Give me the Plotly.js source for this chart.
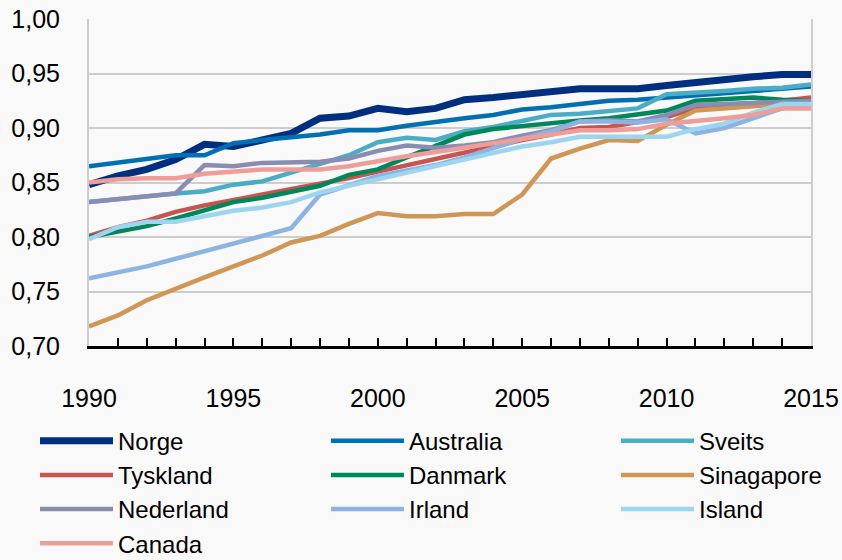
<!DOCTYPE html>
<html>
<head>
<meta charset="utf-8">
<script src="https://cdn.plot.ly/plotly-3.0.1.min.js"></script>
<style>
html,body{margin:0;padding:0;background:#f9f9f9;}
#chart{width:842px;height:560px;}
</style>
</head>
<body>
<div id="chart"></div>
<script>
var years = [1990,1991,1992,1993,1994,1995,1996,1997,1998,1999,2000,2001,2002,2003,2004,2005,2006,2007,2008,2009,2010,2011,2012,2013,2014,2015];

var norge     = [0.848,0.856,0.862,0.871,0.885,0.883,0.889,0.895,0.909,0.911,0.918,0.915,0.918,0.926,0.928,0.931,0.934,0.936,0.936,0.936,0.939,0.942,0.945,0.947,0.949,0.949];
var australia = [0.865,0.868,0.871,0.875,0.875,0.886,0.889,0.891,0.894,0.898,0.898,0.902,0.906,0.909,0.912,0.917,0.919,0.922,0.925,0.926,0.928,0.930,0.932,0.934,0.936,0.938];
var sveits    = [0.832,0.835,0.837,0.840,0.842,0.848,0.851,0.859,0.868,0.875,0.887,0.891,0.889,0.897,0.901,0.906,0.912,0.913,0.916,0.918,0.931,0.932,0.934,0.936,0.937,0.940];
var tyskland  = [0.801,0.809,0.815,0.823,0.829,0.834,0.839,0.843,0.848,0.854,0.860,0.866,0.871,0.877,0.883,0.889,0.894,0.900,0.901,0.905,0.910,0.918,0.920,0.922,0.925,0.928];
var danmark   = [0.800,0.805,0.810,0.817,0.824,0.832,0.836,0.841,0.847,0.857,0.862,0.873,0.883,0.894,0.899,0.902,0.904,0.907,0.909,0.912,0.916,0.925,0.926,0.928,0.926,0.925];
var singapore = [0.718,0.728,0.742,0.753,0.763,0.773,0.783,0.795,0.801,0.812,0.822,0.819,0.819,0.821,0.821,0.839,0.872,0.881,0.889,0.888,0.903,0.916,0.918,0.920,0.922,0.924];
var nederland = [0.832,0.835,0.837,0.840,0.866,0.865,0.868,0.868,0.869,0.872,0.879,0.884,0.882,0.884,0.887,0.893,0.898,0.906,0.907,0.906,0.912,0.921,0.922,0.923,0.924,0.925];
var irland    = [0.762,0.767,0.773,0.780,0.787,0.795,0.801,0.808,0.839,0.847,0.856,0.861,0.866,0.873,0.882,0.890,0.897,0.906,0.906,0.905,0.908,0.895,0.900,0.909,0.918,0.922];
var island    = [0.798,0.809,0.814,0.814,0.819,0.824,0.827,0.832,0.841,0.847,0.854,0.860,0.865,0.871,0.878,0.883,0.887,0.892,0.892,0.892,0.892,0.899,0.904,0.914,0.922,0.922];
var canada    = [0.850,0.853,0.854,0.854,0.858,0.860,0.862,0.862,0.862,0.865,0.870,0.874,0.878,0.882,0.887,0.891,0.894,0.898,0.898,0.899,0.904,0.906,0.909,0.912,0.918,0.918];

var names  = ["Norge","Australia","Sveits","Tyskland","Danmark","Sinagapore","Nederland","Irland","Island","Canada"];
var series = [norge,australia,sveits,tyskland,danmark,singapore,nederland,irland,island,canada];
var colors = ["#002f7f","#0070b3","#4bacc6","#c8544f","#00875c","#cf9655","#8a8db2","#8db3e2","#9dd5ef","#ee9d98"];
var widths = [7,4.5,4.5,4.5,4.5,4.5,4.5,4.5,4.5,4.5];
var legendOf = ["legend","legend2","legend3","legend","legend2","legend3","legend","legend2","legend3","legend"];

var FONT = "Liberation Sans, Arial, sans-serif";

var traces = series.map(function(s,i){
  return {
    x: years, y: s, name: names[i], type: "scatter", mode: "lines",
    line: {color: colors[i], width: widths[i]},
    legend: legendOf[i]
  };
});

function leg(xpx){
  return {
    x: (xpx-89)/722, xanchor: "left", xref: "paper",
    y: -0.222, yanchor: "top", yref: "paper",
    orientation: "v", bgcolor: "rgba(0,0,0,0)", borderwidth: 0,
    itemwidth: 73, tracegroupgap: 0,
    font: {family: FONT, size: 24, color: "#000"}
  };
}

var layout = {
  width: 842, height: 560,
  paper_bgcolor: "#f9f9f9", plot_bgcolor: "#f9f9f9",
  margin: {l: 89, r: 31, t: 19, b: 214, autoexpand: false},
  separators: ", ",
  showlegend: true,
  font: {family: FONT, size: 25, color: "#000"},
  xaxis: {
    range: [1990, 2015], dtick: 5, tick0: 1990,
    showgrid: false, zeroline: false,
    showline: true, linecolor: "#000", linewidth: 2.5,
    ticks: "inside", ticklen: 8, tickwidth: 2, tickcolor: "#000",
    minor: {dtick: 1, ticks: "inside", ticklen: 8, tickwidth: 2, tickcolor: "#000", showgrid: false},
    ticklabelstandoff: 28,
    tickfont: {family: FONT, size: 25, color: "#000"}
  },
  yaxis: {
    range: [0.70, 1.00], dtick: 0.05, tick0: 0.70, tickformat: ".2f",
    showgrid: true, gridcolor: "#cdcdcd", gridwidth: 2,
    zeroline: false, showline: true, mirror: true, linecolor: "#cdcdcd", linewidth: 2,
    ticks: "", ticklabelstandoff: 22,
    tickfont: {family: FONT, size: 25, color: "#000"}
  },
  legend: leg(35),
  legend2: leg(326),
  legend3: leg(616)
};

Plotly.newPlot("chart", traces, layout, {displayModeBar: false, staticPlot: true});
</script>
</body>
</html>
